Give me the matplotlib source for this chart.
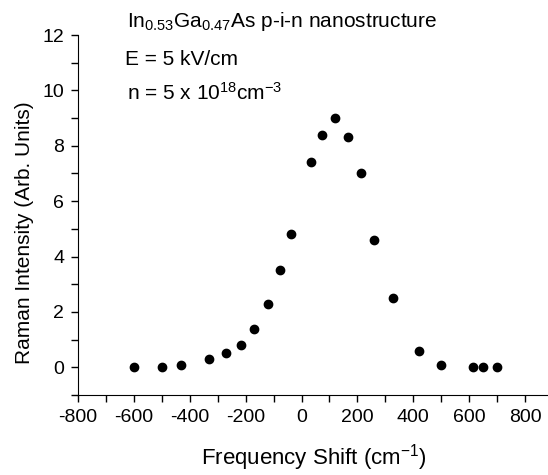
import numpy as np
import matplotlib.pyplot as plt
from matplotlib.ticker import MultipleLocator

plt.rcParams['font.family'] = ['Liberation Sans', 'DejaVu Sans']
plt.rcParams['mathtext.default'] = 'regular'
plt.rcParams['axes.unicode_minus'] = False

# Frequency shift (cm^-1) and Raman intensity
shift = [-600, -500, -430, -330, -270, -215, -170, -120, -78, -39,
         35, 72, 118, 167, 212, 258, 328, 419, 498, 613, 649, 699]
intensity = [0.0, 0.0, 0.1, 0.3, 0.5, 0.8, 1.4, 2.3, 3.5, 4.8,
             7.4, 8.4, 9.0, 8.3, 7.0, 4.6, 2.5, 0.6, 0.1, 0.0, 0.0, 0.0]

W, H = 548, 475
fig = plt.figure(figsize=(W / 100, H / 100), dpi=100)
ax = fig.add_axes([78 / W, 80 / H, 1 - 78 / W, (395 - 35) / H])

ax.plot(shift, intensity, 'o', color='black', markersize=6)

ax.set_xlim(-800, 882)
ax.set_ylim(-1, 12)
ax.xaxis.set_major_locator(MultipleLocator(200))
ax.xaxis.set_minor_locator(MultipleLocator(100))
ax.yaxis.set_major_locator(MultipleLocator(2))
ax.yaxis.set_minor_locator(MultipleLocator(1))
ax.tick_params(which='both', direction='out', width=1, labelsize=14, pad=5)
ax.tick_params(which='major', length=5)
ax.tick_params(which='minor', length=5)

for side in ['top', 'right']:
    ax.spines[side].set_visible(False)

# axis titles
fig.text(314 / W, 1 - 458 / H, 'Frequency Shift (cm$^{-1}$)', fontsize=16,
         ha='center', va='center')
fig.text(25 / W, 1 - 233 / H, 'Raman Intensity (Arb. Units)', fontsize=15,
         ha='center', va='center', rotation=90)

# annotations
fig.text(127 / W, 1 - 27 / H, 'In$_{0.53}$Ga$_{0.47}$As p-i-n nanostructure',
         fontsize=15, va='baseline')
fig.text(125 / W, 1 - 65 / H, 'E = 5 kV/cm', fontsize=15, va='baseline')
fig.text(127 / W, 1 - 100 / H, 'n = 5 x 10$^{18}$cm$^{-3}$',
         fontsize=15, va='baseline')

fig.savefig('out.png', dpi=100)
